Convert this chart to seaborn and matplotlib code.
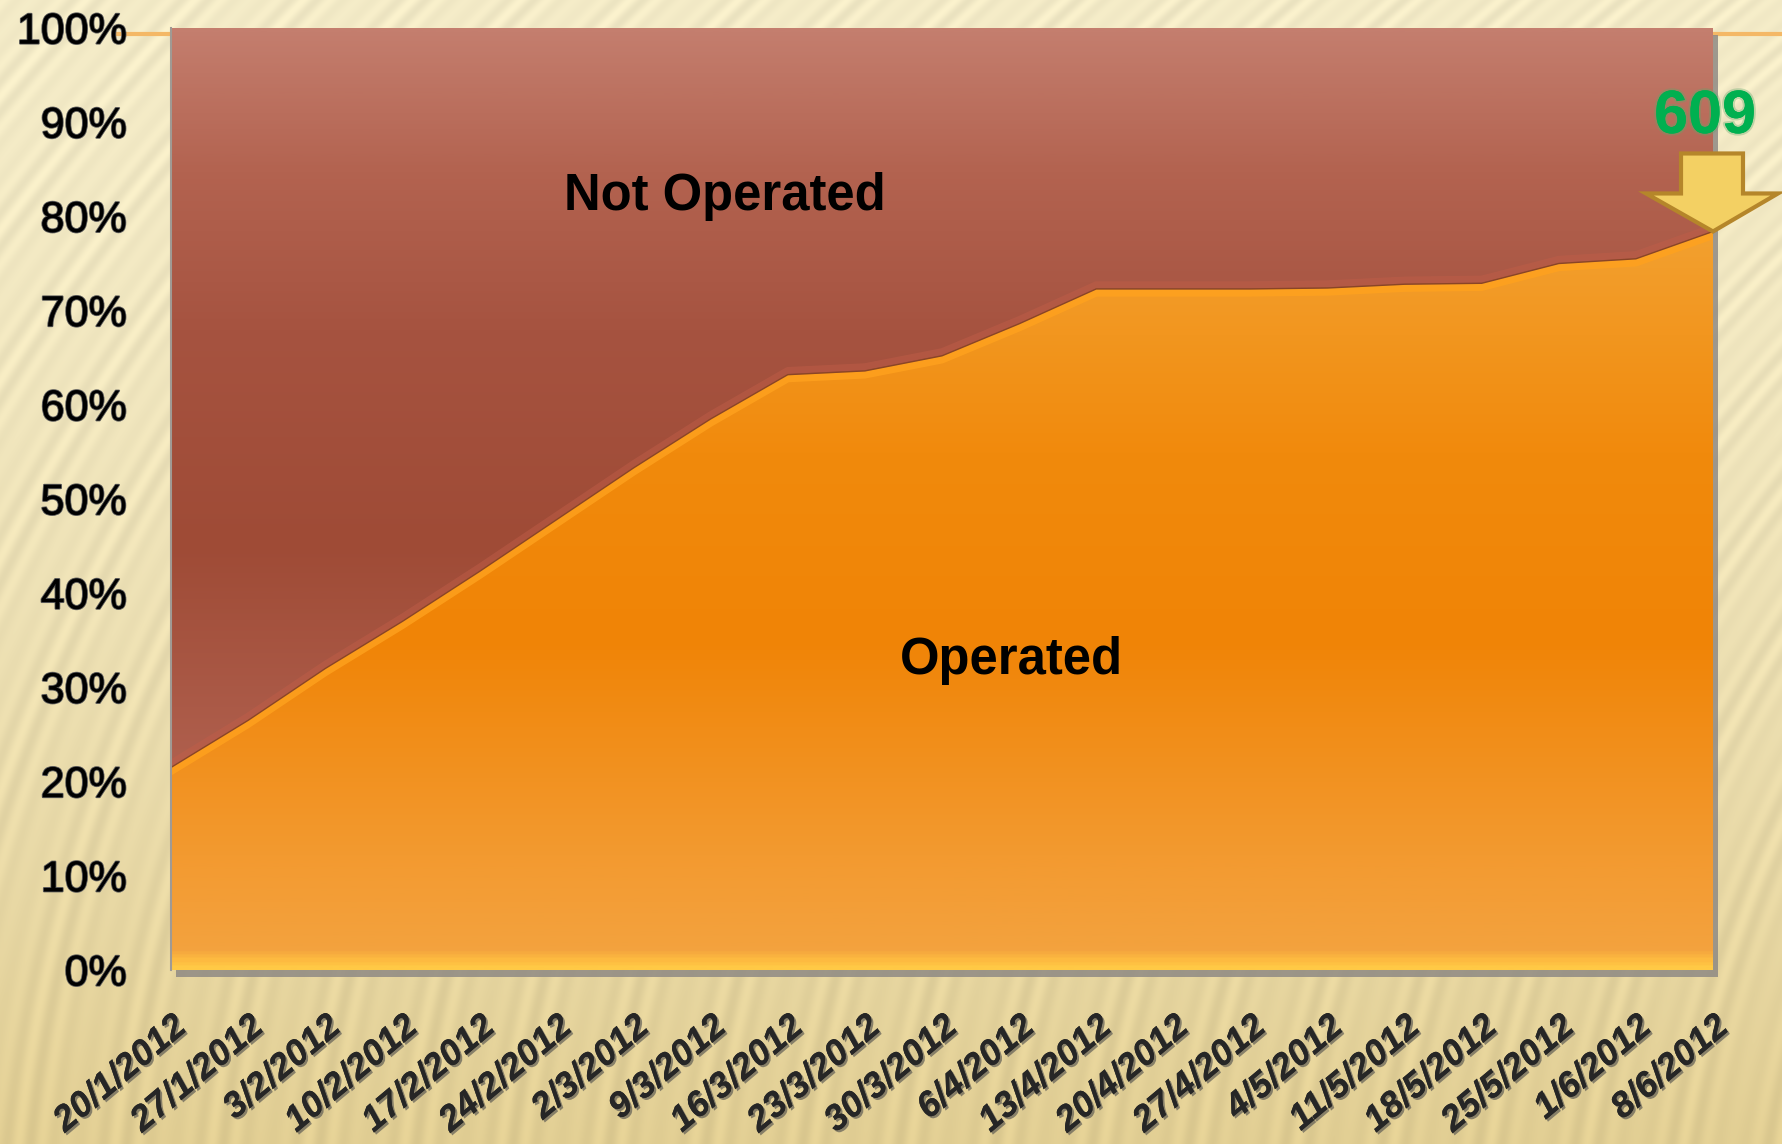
import numpy as np
import pandas as pd
import matplotlib
matplotlib.use("Agg")
import matplotlib.pyplot as plt
import seaborn as sns
from matplotlib import patheffects as pe
from matplotlib import transforms as mtransforms
from matplotlib.colors import LinearSegmentedColormap
from matplotlib.patches import Polygon, Rectangle
from matplotlib.lines import Line2D

# ---------------- data ----------------
dates = ["20/1/2012", "27/1/2012", "3/2/2012", "10/2/2012", "17/2/2012",
         "24/2/2012", "2/3/2012", "9/3/2012", "16/3/2012", "23/3/2012",
         "30/3/2012", "6/4/2012", "13/4/2012", "20/4/2012", "27/4/2012",
         "4/5/2012", "11/5/2012", "18/5/2012", "25/5/2012", "1/6/2012",
         "8/6/2012"]
operated_pct = [21.5, 26.5, 32.0, 37.0, 42.3, 47.8, 53.3, 58.5, 63.2, 63.6,
                65.2, 68.6, 72.3, 72.3, 72.3, 72.4, 72.8, 72.9, 75.0, 75.5,
                78.4]
not_operated_pct = [100 - v for v in operated_pct]
series_names = ["Operated", "Not Operated"]
y_ticks = list(range(0, 101, 10))
y_tick_labels = [f"{v}%" for v in y_ticks]
callout_value = "609"

df = pd.DataFrame({"date": dates, "idx": range(len(dates)),
                   "Operated": operated_pct, "Not Operated": not_operated_pct})
df["top"] = df["Operated"] + df["Not Operated"]

# ---------------- figure ----------------
W, H = 1783, 1144
sns.set_theme(style="white")
plt.rcParams["font.family"] = ["Liberation Sans", "DejaVu Sans"]

fig = plt.figure(figsize=(W / 100, H / 100), dpi=100)

# background: cream with diagonal stripes
bg = fig.add_axes([0, 0, 1, 1], zorder=-10)
yy, xx = np.mgrid[0:H, 0:W].astype(float)
t = (yy / H) ** 1.6
top_c = np.array([252, 243, 206]) / 255
bot_c = np.array([233, 213, 152]) / 255
base = top_c[None, None, :] * (1 - t[..., None]) + bot_c[None, None, :] * t[..., None]
theta = np.deg2rad(62 + 22 * (yy / H))
phase = xx * np.sin(theta) - (H - yy) * np.cos(theta)
stripes = 0.5 + 0.5 * np.sin(2 * np.pi * phase / 24.0) * (0.6 + 0.4 * np.sin(2 * np.pi * phase / 97.0))
img = base * (1 - 0.07 * stripes[..., None])
bg.imshow(np.clip(img, 0, 1), aspect="auto", extent=[0, 1, 0, 1], origin="upper")
bg.set_axis_off()

# slide underline
fig.add_artist(Line2D([0.065, 1.0], [1 - 34 / H, 1 - 34 / H], transform=fig.transFigure,
                      color="#F4B866", lw=3, zorder=-6))

ax_l, ax_r, ax_b, ax_t = 171, 1713, 970, 28
pos = [ax_l / W, 1 - ax_b / H, (ax_r - ax_l) / W, (ax_b - ax_t) / H]
# plot-area shadow
fig.add_artist(Rectangle((pos[0] + 5 / W, pos[1] - 7 / H), pos[2], pos[3],
                         transform=fig.transFigure, facecolor="#8F8A84",
                         edgecolor="none", alpha=0.85, zorder=-5))
ax = fig.add_axes(pos)
ax.set_facecolor("none")

n = len(dates)
x = df["idx"].to_numpy()


def gradient_fill(ax, x, lo, hi, stops, z):
    coll = ax.fill_between(x, lo, hi, facecolor="none", edgecolor="none", zorder=z)
    cmap = LinearSegmentedColormap.from_list("g", stops)
    grad = np.linspace(0, 1, 600).reshape(-1, 1)
    im = ax.imshow(grad, aspect="auto", cmap=cmap, extent=[0, n - 1, 0, 100],
                   origin="lower", zorder=z, interpolation="bilinear")
    im.set_clip_path(coll.get_paths()[0], ax.transData)
    return im


op_stops = [(0.0, "#FFC945"), (0.008, "#FDBA40"), (0.02, "#F3A23E"),
            (0.12, "#F39A30"), (0.35, "#F08406"), (0.55, "#F18A0C"),
            (0.8, "#F3A232"), (1.0, "#F5AA40")]
no_stops = [(0.0, "#B86B5E"), (0.22, "#AF5F4D"), (0.45, "#9F4B36"),
            (0.68, "#A65340"), (0.85, "#B36350"), (1.0, "#C47E6E")]

gradient_fill(ax, x, 0, df["Operated"], op_stops, 1)
gradient_fill(ax, x, df["Operated"], df["top"], no_stops, 1)

# boundary line with soft glows
line_ax = sns.lineplot(data=df, x="idx", y="Operated", ax=ax, color="#8A4526",
                       lw=1.0, zorder=3)
line_ax.lines[-1].set_path_effects([
    pe.Stroke(offset=(0, 3), linewidth=5, foreground="#C25E48", alpha=0.45),
    pe.Stroke(offset=(0, -3), linewidth=5, foreground="#FFA21E", alpha=0.8),
    pe.Normal()])

ax.set_xlim(0, n - 1)
ax.set_ylim(0, 100)
ax.set_xlabel("")
ax.set_ylabel("")

# ticks
ax.set_yticks(y_ticks)
ax.set_yticklabels(y_tick_labels, fontsize=31, color="black",
                   family=["Liberation Sans", "DejaVu Sans"])
ax.set_xticks(x)
ax.set_xticklabels(dates, rotation=40, ha="right", rotation_mode="anchor",
                   fontsize=26, fontweight="bold", fontstyle="italic",
                   family=["Liberation Sans", "DejaVu Sans"])
ax.tick_params(axis="y", length=0, pad=32, right=True)
ax.tick_params(axis="x", length=0, pad=28)
for lab in ax.get_xticklabels():
    lab.set_path_effects([pe.withSimplePatchShadow(offset=(1.5, -1.5), shadow_rgbFace="#4A4A4A",
                                                   alpha=0.6), pe.Normal()])
for lab in ax.get_yticklabels():
    lab.set_path_effects([pe.withStroke(linewidth=1.5, foreground="#555555"), pe.Normal()])

for s in ["top", "right", "bottom"]:
    ax.spines[s].set_visible(False)
ax.spines["left"].set_color("#A09A94")
ax.spines["left"].set_linewidth(1.5)
ax.spines["left"].set_zorder(5)

# area labels
ax.text(7.19, 82.1, series_names[1], fontsize=36.5, fontweight="bold", color="black",
        ha="center", va="center", zorder=6)
ax.text(10.9, 32.9, series_names[0], fontsize=36.5, fontweight="bold", color="black",
        ha="center", va="center", zorder=6)

# callout arrow + value at last point
anchor = mtransforms.ScaledTranslation(x[-1], operated_pct[-1], ax.transData)
tr = fig.dpi_scale_trans + anchor
arrow_px = np.array([[0, 0], [-67, 38], [-32, 38], [-32, 78], [30, 78], [30, 38], [65, 38]])
ax.add_patch(Polygon(arrow_px / 100.0, closed=True, transform=tr, facecolor="#F3D063",
                     edgecolor="#B5862A", lw=3, joinstyle="miter", clip_on=False, zorder=8))
ax.annotate(callout_value, xy=(x[-1], operated_pct[-1]), xytext=(-8, 114),
            textcoords="offset pixels", ha="center", va="center", fontsize=44,
            fontweight="bold", color="#00B050", zorder=9, annotation_clip=False,
            path_effects=[pe.withStroke(linewidth=3, foreground="#5FA86A", alpha=0.35),
                          pe.Normal()])

fig.savefig("out.png", dpi=100)
